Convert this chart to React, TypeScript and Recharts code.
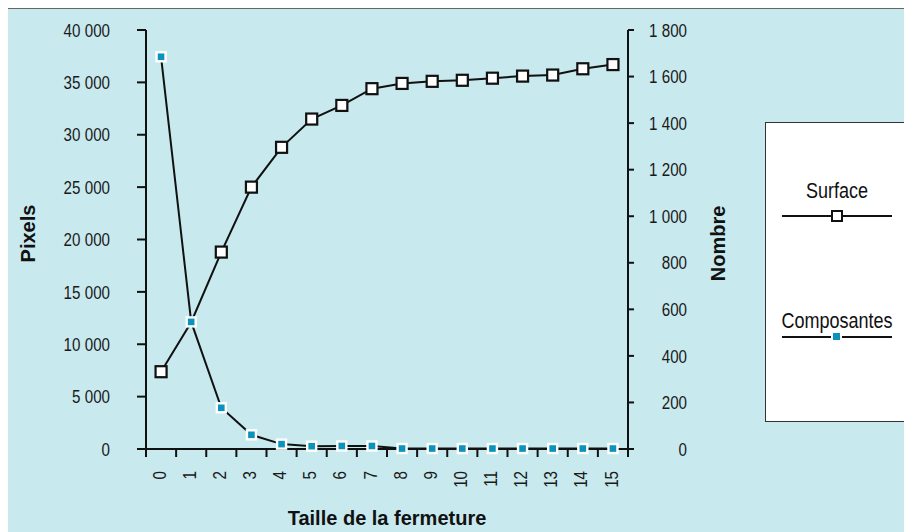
// Surface et nombre de composantes selon la taille de la fermeture (double axe Y).

import { LineChart, Line, XAxis, YAxis } from "recharts";

const taille = [0, 1, 2, 3, 4, 5, 6, 7, 8, 9, 10, 11, 12, 13, 14, 15];
const surface = [
  7380, 12100, 18800, 25000, 28800, 31500, 32800, 34400, 34900, 35100, 35200,
  35400, 35600, 35700, 36300, 36700,
];
const composantes = [1685, 546, 177, 61, 21, 12, 13, 13, 2, 2, 2, 2, 2, 2, 2, 2];

const pixelTicks = [0, 5000, 10000, 15000, 20000, 25000, 30000, 35000, 40000];
const nombreTicks = [0, 200, 400, 600, 800, 1000, 1200, 1400, 1600, 1800];
const bornes = [
  -0.5, 0.5, 1.5, 2.5, 3.5, 4.5, 5.5, 6.5, 7.5, 8.5, 9.5, 10.5, 11.5, 12.5,
  13.5, 14.5, 15.5,
];

const data = taille.map((t, i) => ({
  taille: t,
  surface: surface[i],
  composantes: composantes[i],
}));

// pas de police "narrow" installée : Liberation Sans compressée horizontalement
const SANS = '"Liberation Sans", Arial, sans-serif';
const SQUEEZE = 0.82;
const BLUE = "#0b93bd";
const BG = "#c8e9ee";

const fmt = (v: number) => String(v).replace(/\B(?=(\d{3})+(?!\d))/g, " ");

const YTick = (props: any) => {
  const { x, y, payload } = props;
  return (
    <text
      transform={`translate(${x},${y}) scale(${SQUEEZE},1)`}
      dy="0.36em"
      textAnchor="end"
      fontFamily={SANS}
      fontSize={18.5}
      fill="#1a1a1a"
    >
      {fmt(payload.value)}
    </text>
  );
};

const XTick = (props: any) => {
  const { x, y, payload } = props;
  return (
    <text
      transform={`translate(${x - 2},${y + 21}) rotate(-90) scale(${SQUEEZE},1)`}
      dy="0.36em"
      textAnchor="end"
      fontFamily={SANS}
      fontSize={18.5}
      fill="#1a1a1a"
    >
      {payload.value}
    </text>
  );
};

const SurfaceDot = (props: any) => {
  const { cx, cy, index } = props;
  // au point 1 le marqueur est masqué par celui des composantes
  if (cx == null || cy == null || index === 1) return <g key={`s${index}`} />;
  return (
    <g key={`s${index}`}>
      <rect x={cx - 4.5} y={cy - 4.5} width={11} height={11} fill="#555" opacity={0.35} />
      <rect x={cx - 5.5} y={cy - 5.5} width={11} height={11} fill="#fff" stroke="#111" strokeWidth={2.2} />
    </g>
  );
};

const CompDot = (props: any) => {
  const { cx, cy, index } = props;
  if (cx == null || cy == null) return <g key={`c${index}`} />;
  return (
    <rect key={`c${index}`} x={cx - 4.5} y={cy - 4.5} width={9} height={9} fill={BLUE} stroke="#fff" strokeWidth={2.4} />
  );
};

function LegendText({ x, y, children }: { x: number; y: number; children: string }) {
  return (
    <text
      transform={`translate(${x},${y}) scale(${SQUEEZE},1)`}
      textAnchor="middle"
      fontFamily={SANS}
      fontSize={22}
      fill="#111"
    >
      {children}
    </text>
  );
}

function Legende() {
  return (
    <div
      style={{
        position: "absolute",
        left: 760,
        top: 113,
        width: 142,
        height: 298,
        background: "#fff",
        border: "1px solid #333",
      }}
    >
      <svg width={142} height={298} style={{ display: "block" }}>
        <LegendText x={71} y={75}>Surface</LegendText>
        <line x1={16} x2={126} y1={93} y2={93} stroke="#111" strokeWidth={2} />
        <rect x={66} y={88} width={10} height={10} fill="#fff" stroke="#111" strokeWidth={2} />
        <LegendText x={71} y={205}>Composantes</LegendText>
        <line x1={16} x2={126} y1={214} y2={214} stroke="#111" strokeWidth={2} />
        <rect x={66} y={209} width={9} height={9} fill={BLUE} stroke="#fff" strokeWidth={2} />
      </svg>
    </div>
  );
}

const titleProps = {
  fontFamily: SANS,
  fontWeight: "bold" as const,
  fontSize: 20,
  fill: "#111",
};

export default function App() {
  return (
    <div
      style={{
        position: "relative",
        marginLeft: -4,
        width: 906,
        height: 528,
        border: "1px solid #666",
        background: BG,
      }}
    >
      <LineChart width={906} height={528} data={data} margin={{ top: 21, right: 0, bottom: 0, left: 0 }}>
        <XAxis
          xAxisId="bornes"
          type="number"
          dataKey="taille"
          domain={[-0.5, 15.5]}
          allowDataOverflow
          ticks={bornes}
          interval={0}
          height={1}
          tickSize={8}
          tick={() => <g />}
          stroke="#111"
          strokeWidth={2}
        />
        <XAxis
          xAxisId="lbl"
          type="number"
          dataKey="taille"
          domain={[-0.5, 15.5]}
          allowDataOverflow
          ticks={taille}
          interval={0}
          height={87}
          axisLine={false}
          tickLine={false}
          tickSize={0}
          tickMargin={0}
          tick={<XTick />}
          label={{
            value: "Taille de la fermeture",
            content: ({ viewBox }: any) => (
              <text x={viewBox.x + viewBox.width / 2} y={viewBox.y + 75} textAnchor="middle" {...titleProps}>
                Taille de la fermeture
              </text>
            ),
          }}
        />
        <YAxis
          yAxisId="px"
          domain={[0, 40000]}
          ticks={pixelTicks}
          interval={0}
          width={141}
          tickSize={9}
          tickMargin={27}
          tick={<YTick />}
          stroke="#111"
          strokeWidth={2}
          label={{
            value: "Pixels",
            content: ({ viewBox }: any) => (
              <text
                transform={`translate(${viewBox.x + 23},${viewBox.y + viewBox.height / 2 - 6}) rotate(-90)`}
                textAnchor="middle"
                dy="0.36em"
                {...titleProps}
              >
                Pixels
              </text>
            ),
          }}
        />
        <YAxis
          yAxisId="nb"
          orientation="right"
          domain={[0, 1800]}
          ticks={nombreTicks}
          interval={0}
          width={283}
          tickSize={6}
          tickMargin={53}
          tick={<YTick />}
          stroke="#111"
          strokeWidth={2}
          label={{
            value: "Nombre",
            content: ({ viewBox }: any) => (
              <text
                transform={`translate(${viewBox.x + 90},${viewBox.y + viewBox.height / 2 + 4}) rotate(-90)`}
                textAnchor="middle"
                dy="0.36em"
                {...titleProps}
              >
                Nombre
              </text>
            ),
          }}
        />
        <Line
          xAxisId="lbl"
          yAxisId="px"
          dataKey="surface"
          stroke="#111"
          strokeWidth={2}
          dot={<SurfaceDot />}
          activeDot={false}
          isAnimationActive={false}
        />
        <Line
          xAxisId="lbl"
          yAxisId="nb"
          dataKey="composantes"
          stroke="#111"
          strokeWidth={2}
          dot={<CompDot />}
          activeDot={false}
          isAnimationActive={false}
        />
      </LineChart>
      <Legende />
    </div>
  );
}
